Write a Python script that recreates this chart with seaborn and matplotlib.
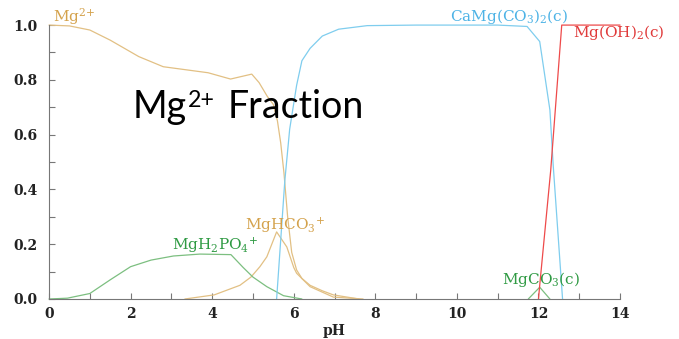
import matplotlib
matplotlib.use("Agg")
import matplotlib.pyplot as plt
from matplotlib.ticker import MultipleLocator, FormatStrFormatter
import seaborn as sns

# ---- data ----
mg_ph = [0, 0.5, 1.0, 1.5, 2.2, 2.8, 3.4, 3.9, 4.45, 4.97, 5.15, 5.35, 5.5, 5.6,
         5.68, 5.76, 5.85, 5.95, 6.07, 6.2, 6.4, 6.7, 6.97, 7.6]
mg_frac = [1.0, 0.997, 0.982, 0.945, 0.885, 0.848, 0.836, 0.826, 0.803, 0.821, 0.79,
           0.74, 0.71, 0.65, 0.57, 0.46, 0.30, 0.17, 0.106, 0.075, 0.05, 0.03, 0.015, 0.0]

dol_ph = [5.58, 5.78, 5.9, 6.07, 6.2, 6.4, 6.7, 7.1, 7.8, 9.0, 11.0, 11.72, 12.03,
          12.28, 12.36, 12.59]
dol_frac = [0.0, 0.43, 0.62, 0.78, 0.87, 0.915, 0.96, 0.985, 0.998, 1.0, 1.0, 0.995,
            0.94, 0.69, 0.49, 0.0]

oh_ph = [12.0, 12.03, 12.3, 12.57, 14.0]
oh_frac = [0.0, 0.05, 0.47, 1.0, 1.0]

po4_ph = [0, 0.45, 1.0, 1.5, 2.0, 2.5, 3.05, 3.7, 4.46, 4.76, 5.0, 5.34, 5.75, 6.2]
po4_frac = [0.0, 0.003, 0.02, 0.07, 0.118, 0.142, 0.157, 0.164, 0.162, 0.115, 0.08,
            0.045, 0.012, 0.0]

hco3_ph = [3.33, 4.05, 4.68, 4.95, 5.17, 5.34, 5.58, 5.83, 6.0, 6.07, 6.4, 6.97, 7.7]
hco3_frac = [0.0, 0.015, 0.05, 0.08, 0.118, 0.154, 0.245, 0.19, 0.115, 0.094, 0.045,
             0.007, 0.0]

co3_ph = [11.75, 12.03, 12.28]
co3_frac = [0.0, 0.043, 0.0]

x_ticks = [0, 2, 4, 6, 8, 10, 12, 14]
y_ticks = [0.0, 0.2, 0.4, 0.6, 0.8, 1.0]

# ---- style ----
sns.set_style("white")
plt.rcParams["font.family"] = ["DejaVu Serif"]
plt.rcParams["mathtext.fontset"] = "custom"
plt.rcParams["mathtext.rm"] = "DejaVu Serif"
plt.rcParams["mathtext.it"] = "DejaVu Serif"
plt.rcParams["mathtext.bf"] = "DejaVu Serif:bold"

TAN = "#e2c084"
TAN_T = "#d4a24c"
CYAN = "#7fcdee"
CYAN_T = "#4db3e6"
RED = "#ee4a4a"
RED_T = "#e03a3a"
GREEN = "#7cbf80"
GREEN_T = "#2f9a43"

fig = plt.figure(figsize=(6.79, 3.39), dpi=100)
ax = fig.add_axes([0.0722, 0.118, 0.8410, 0.808])

series = [
    (mg_ph, mg_frac, TAN),
    (hco3_ph, hco3_frac, TAN),
    (po4_ph, po4_frac, GREEN),
    (co3_ph, co3_frac, GREEN),
    (dol_ph, dol_frac, CYAN),
    (oh_ph, oh_frac, RED),
]
for xs, ys, c in series:
    sns.lineplot(x=xs, y=ys, color=c, lw=0.9, ax=ax, estimator=None, sort=False,
                 clip_on=False)

ax.set_xlim(0, 14)
ax.set_ylim(0, 1.0)
ax.set_xticks(x_ticks)
ax.set_yticks(y_ticks)
ax.xaxis.set_minor_locator(MultipleLocator(1))
ax.yaxis.set_minor_locator(MultipleLocator(0.1))
ax.yaxis.set_major_formatter(FormatStrFormatter("%.1f"))
ax.tick_params(which="both", direction="in", length=4, width=0.8, color="#777777",
               bottom=True, left=True, top=False, right=False)
ax.tick_params(which="major", labelsize=10, labelcolor="#222222")
ax.tick_params(axis="x", pad=6)
ax.tick_params(axis="y", pad=8)
for lbl in ax.get_xticklabels() + ax.get_yticklabels():
    lbl.set_fontweight("bold")
for s in ["top", "right"]:
    ax.spines[s].set_visible(False)
for s in ["left", "bottom"]:
    ax.spines[s].set_color("#777777")
    ax.spines[s].set_linewidth(0.8)
ax.set_xlabel("pH", fontsize=10, fontweight="bold", color="#222222", labelpad=2)
ax.set_ylabel("")
ax.set_facecolor("white")

lab = dict(fontsize=11, ha="center", va="center", clip_on=False)
ax.text(0.1, 1.03, r"Mg$^{2}$$^{+}$", color=TAN_T, **{**lab, "ha": "left"})
ax.text(11.29, 1.03, r"CaMg(CO$_3$)$_2$(c)", color=CYAN_T, **lab)
ax.text(13.98, 0.972, r"Mg(OH)$_2$(c)", color=RED_T, **lab)
ax.text(5.78, 0.27, r"MgHCO$_{3}{}^{+}$", color=TAN_T, **lab)
ax.text(4.07, 0.197, r"MgH$_2$PO$_{4}{}^{+}$", color=GREEN_T, **lab)
ax.text(12.07, 0.073, r"MgCO$_3$(c)", color=GREEN_T, **lab)

# big overlay title "Mg2+ Fraction" built from pieces
TF = 27
t1 = ax.text(2.06, 0.66, "Mg", fontsize=TF, family="Lato", color="black",
             ha="left", va="baseline")
fig.canvas.draw()
rend = fig.canvas.get_renderer()
bb1 = t1.get_window_extent(rend)
base_px = ax.transData.transform((2.06, 0.66))[1]
t2 = ax.annotate("2+", xy=(bb1.x1 + 1, base_px + 11), xycoords="figure pixels",
                 fontsize=TF * 0.62, family="Lato", color="black",
                 ha="left", va="baseline")
fig.canvas.draw()
bb2 = t2.get_window_extent(rend)
ax.annotate("Fraction", xy=(bb2.x1 + 13, base_px), xycoords="figure pixels",
            fontsize=TF, family="Lato", color="black", ha="left", va="baseline")

fig.savefig("out.png", dpi=100, facecolor="white")
